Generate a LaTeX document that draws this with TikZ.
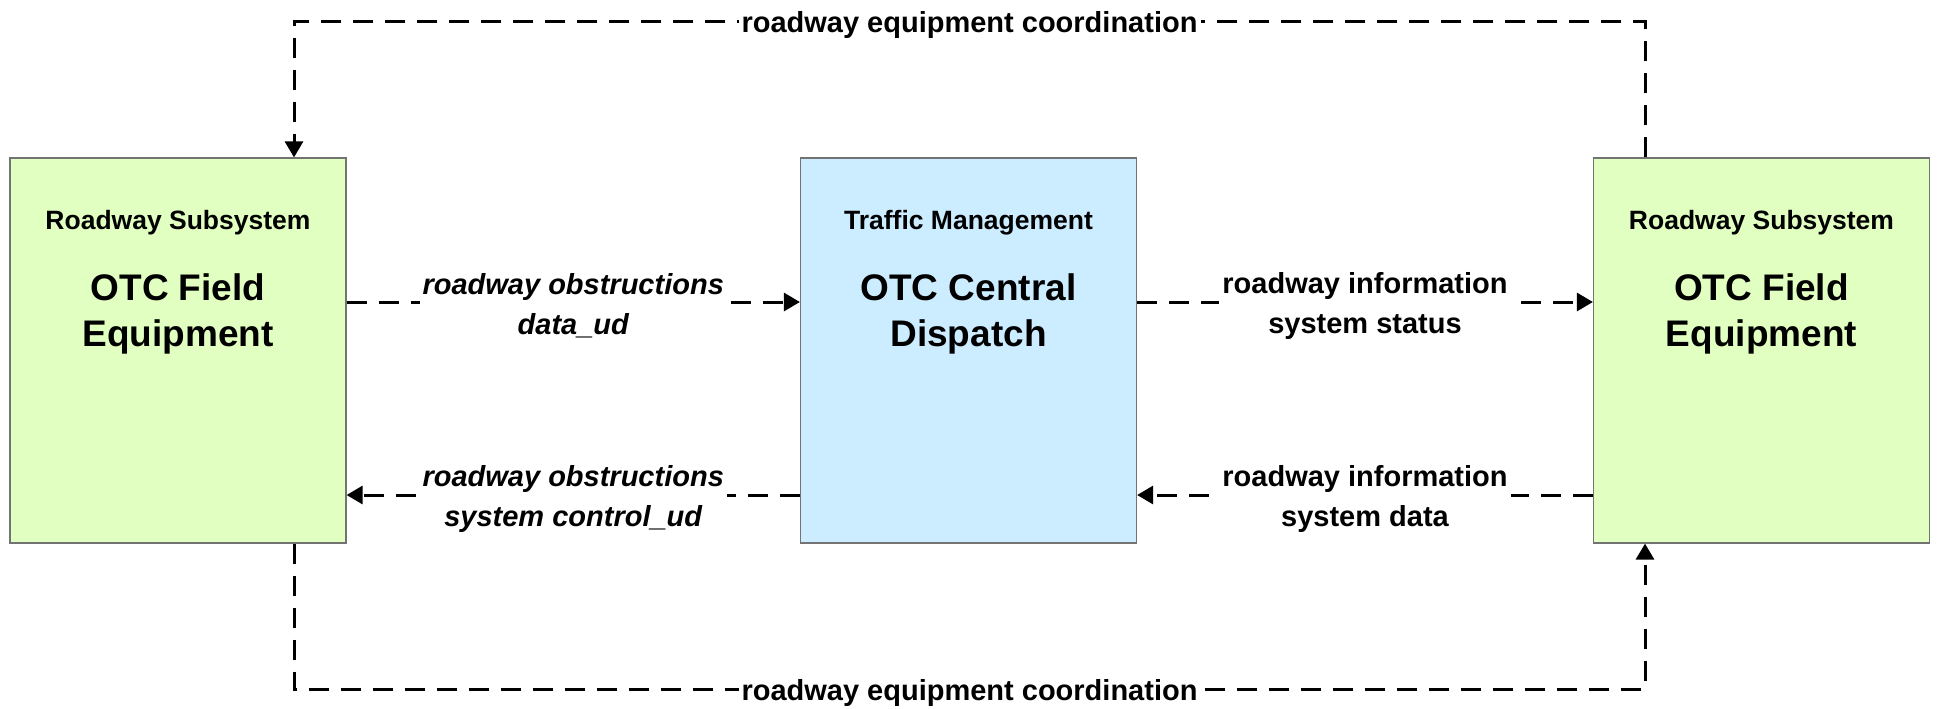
\documentclass[tikz,border=0pt]{standalone}
\usepackage{fontspec}
\setmainfont{Liberation Sans}
\usetikzlibrary{arrows.meta}

\definecolor{fieldgreen}{HTML}{E1FFC1}
\definecolor{centralblue}{HTML}{CCECFF}

\tikzset{
	subsys/.style={draw=black!55, line width=0.6pt, minimum width=168pt, minimum height=192.5pt, inner sep=0pt},
	subsystitle/.style={font=\bfseries\fontsize{13.25}{16}\selectfont},
	elemtitle/.style={align=center, font=\bfseries\fontsize{18.5}{23}\selectfont},
	flow/.style={line width=1.5pt, dash pattern=on 10pt off 6pt, -{Triangle[length=8pt,width=9pt]}},
	flowlabel/.style={fill=white, inner sep=1.5pt, yshift=-2pt, align=center, font=\bfseries\fontsize{14.5}{20}\selectfont}
}

\begin{document}
\begin{tikzpicture}[x=0.5pt, y=-0.5pt]
	\useasboundingbox (0,0) rectangle (1939,708);

	% subsystems
	\node[subsys, fill=fieldgreen]	(fieldL)	at (178,350.5)		{};
	\node[subsys, fill=centralblue]	(central)	at (968.5,350.5)	{};
	\node[subsys, fill=fieldgreen]	(fieldR)	at (1761.5,350.5)	{};

	% subsystem and element names
	\node[subsystitle]	(fieldLkind)	at (178,223)	{Roadway Subsystem};
	\node[elemtitle]	(fieldLname)	at (178,314)	{OTC Field\\Equipment};
	\node[subsystitle]	(centralkind)	at (968.5,223)	{Traffic Management};
	\node[elemtitle]	(centralname)	at (968.5,314)	{OTC Central\\Dispatch};
	\node[subsystitle]	(fieldRkind)	at (1761.5,223)	{Roadway Subsystem};
	\node[elemtitle]	(fieldRname)	at (1761.5,314)	{OTC Field\\Equipment};

	% corners of the coordination loops
	\coordinate (topR) at (1645,21);
	\coordinate (topL) at (294,21);
	\coordinate (botL) at (294,689);
	\coordinate (botR) at (1645,689);

	% flows between field and central
	\draw[flow]	([yshift=24.25pt]fieldL.east) -- node[flowlabel] {\itshape roadway obstructions\\\itshape data\_ud} ([yshift=24.25pt]central.west);
	\draw[flow]	([yshift=-72.25pt]central.west) -- node[flowlabel] {\itshape roadway obstructions\\\itshape system control\_ud} ([yshift=-72.25pt]fieldL.east);
	\draw[flow]	([yshift=24.25pt]central.east) -- node[flowlabel] {roadway information\\system status} ([yshift=24.25pt]fieldR.west);
	\draw[flow]	([yshift=-72.25pt]fieldR.west) -- node[flowlabel] {roadway information\\system data} ([yshift=-72.25pt]central.east);

	% roadway equipment coordination
	\draw[flow]	([xshift=-58.25pt]fieldR.north) -- (topR) -- node[flowlabel] {roadway equipment coordination} (topL) -- ([xshift=58pt]fieldL.north);
	\draw[flow]	([xshift=58pt]fieldL.south) -- (botL) -- node[flowlabel] {roadway equipment coordination} (botR) -- ([xshift=-58.25pt]fieldR.south);
\end{tikzpicture}
\end{document}
